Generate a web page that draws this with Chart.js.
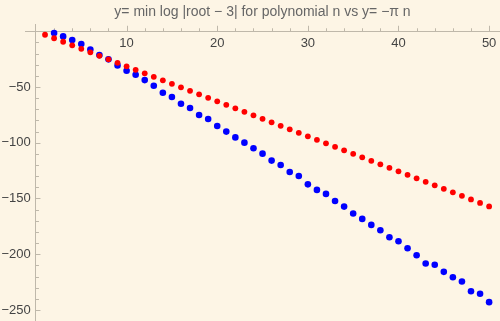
<!DOCTYPE html>
<html>
<head>
<meta charset="utf-8">
<script src="https://cdn.jsdelivr.net/npm/chart.js@4.4.0/dist/chart.umd.min.js"></script>
<style>
  html, body { margin: 0; padding: 0; background: #fdf5e5; }
  #wrap { width: 500px; height: 321px; }
</style>
</head>
<body>
<div id="wrap"><canvas id="grafico"></canvas></div>
<script>
// n values
const nRed = [1,2,3,4,5,6,7,8,9,10,11,12,13,14,15,16,17,18,19,20,21,22,23,24,25,26,27,28,29,30,31,32,33,34,35,36,37,38,39,40,41,42,43,44,45,46,47,48,49,50];
const nBlue = [2,3,4,5,6,7,8,9,10,11,12,13,14,15,16,17,18,19,20,21,22,23,24,25,26,27,28,29,30,31,32,33,34,35,36,37,38,39,40,41,42,43,44,45,46,47,48,49,50];

// y = -pi n (red)
const redValues = [-3.14,-6.28,-9.42,-12.57,-15.71,-18.85,-21.99,-25.13,-28.27,-31.42,-34.56,-37.70,-40.84,-43.98,-47.12,-50.27,-53.41,-56.55,-59.69,-62.83,-65.97,-69.12,-72.26,-75.40,-78.54,-81.68,-84.82,-87.96,-91.11,-94.25,-97.39,-100.53,-103.67,-106.81,-109.96,-113.10,-116.24,-119.38,-122.52,-125.66,-128.81,-131.95,-135.09,-138.23,-141.37,-144.51,-147.65,-150.80,-153.94,-157.08];

// min log |root - 3| (blue)
const blueValues = [-1.6,-4.6,-7.9,-11.5,-16.3,-21.4,-25.2,-30.6,-35.4,-39.0,-43.8,-48.9,-55.2,-59.0,-65.0,-68.8,-75.1,-78.7,-85.0,-90.0,-95.2,-99.9,-105.0,-109.8,-116.0,-119.9,-126.2,-129.8,-137.3,-142.3,-145.9,-152.2,-157.3,-163.5,-168.3,-173.7,-178.5,-184.8,-188.3,-194.6,-200.9,-208.3,-209.5,-215.8,-220.6,-224.5,-233.2,-235.5,-243.0];

const xTicks = [10, 20, 30, 40, 50];
const yTicks = [-50, -100, -150, -200, -250];

const fundo = "#fdf5e5";
const corEixo = "#bfb8aa";
const fonte = "'Liberation Sans', Arial, sans-serif";

// Fundo creme
const pluginFundo = {
  id: "fundo",
  beforeDraw(chart) {
    const ctx = chart.ctx;
    ctx.save();
    ctx.fillStyle = fundo;
    ctx.fillRect(0, 0, chart.width, chart.height);
    ctx.restore();
  }
};

// Marcas maiores e menores dos eixos (para dentro, estilo Mathematica)
const pluginMarcas = {
  id: "marcas",
  beforeDatasetsDraw(chart) {
    const ctx = chart.ctx;
    const sx = chart.scales.x;
    const sy = chart.scales.y;
    const x0 = sx.getPixelForValue(0);
    const y0 = sy.getPixelForValue(0);
    ctx.save();
    ctx.strokeStyle = corEixo;
    ctx.lineWidth = 1;
    ctx.beginPath();
    for (let v = 2; v <= 50; v += 2) {
      const px = Math.round(sx.getPixelForValue(v)) + 0.5;
      const len = v % 10 === 0 ? 5.5 : 3;
      ctx.moveTo(px, y0);
      ctx.lineTo(px, y0 - len);
    }
    for (let v = -10; v >= -250; v -= 10) {
      const py = Math.round(sy.getPixelForValue(v)) + 0.5;
      const len = v % 50 === 0 ? 4.5 : 3;
      ctx.moveTo(x0, py);
      ctx.lineTo(x0 + len, py);
    }
    ctx.stroke();
    ctx.restore();
  }
};

function rotulo(v) {
  return v < 0 ? "\u2212" + Math.abs(v) : String(v);
}

// sem folga extra das escalas no layout
function semFolga(s) {
  s.paddingTop = 0;
  s.paddingBottom = 0;
  s.paddingLeft = 0;
  s.paddingRight = 0;
}

const ctx = document.getElementById("grafico").getContext("2d");

new Chart(ctx, {
  type: "scatter",
  data: {
    datasets: [
      {
        label: "min log |root - 3|",
        data: nBlue.map((n, i) => ({ x: n, y: blueValues[i] })),
        backgroundColor: "#0000ff",
        borderWidth: 0,
        pointRadius: 3.3,
        order: 2
      },
      {
        label: "-pi n",
        data: nRed.map((n, i) => ({ x: n, y: redValues[i] })),
        backgroundColor: "#ff0000",
        borderWidth: 0,
        pointRadius: 2.9,
        order: 1
      }
    ]
  },
  options: {
    responsive: true,
    maintainAspectRatio: false,
    animation: false,
    clip: false,
    layout: { autoPadding: false, padding: { left: 25, right: 0, top: 0, bottom: 0 } },
    plugins: {
      legend: { display: false },
      tooltip: { enabled: false },
      title: {
        display: true,
        fullSize: false,
        text: "y= min log |root \u2212 3| for polynomial n vs y= \u2212\u03c0 n",
        color: "#666666",
        font: { family: fonte, size: 14, weight: "normal" },
        padding: { top: 4, bottom: 4 }
      }
    },
    scales: {
      x: {
        type: "linear",
        min: -1.21,
        max: 51.2,
        position: { y: 0 },
        grid: { display: false, tickLength: 4 },
        border: { display: true, color: corEixo, width: 1 },
        afterBuildTicks: s => { s.ticks = xTicks.map(v => ({ value: v })); },
        afterFit: semFolga,
        ticks: {
          color: "#444444",
          padding: 0,
          maxRotation: 0,
          font: { family: fonte, size: 13 },
          callback: v => rotulo(v)
        }
      },
      y: {
        type: "linear",
        min: -259.9,
        max: 5.8,
        position: { x: 0 },
        grid: { display: false },
        border: { display: true, color: corEixo, width: 1 },
        afterBuildTicks: s => { s.ticks = yTicks.map(v => ({ value: v })); },
        afterFit: semFolga,
        ticks: {
          color: "#444444",
          padding: 0,
          font: { family: fonte, size: 13 },
          callback: v => rotulo(v) + "\u2009\u2009"
        }
      }
    }
  },
  plugins: [pluginFundo, pluginMarcas]
});
</script>
</body>
</html>
